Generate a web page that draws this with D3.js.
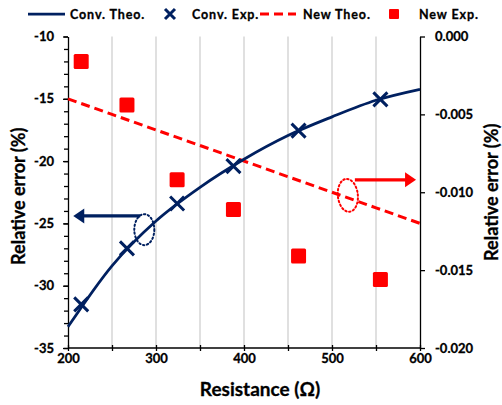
<!DOCTYPE html>
<html>
<head>
<meta charset="utf-8">
<script src="https://cdn.jsdelivr.net/npm/d3@7"></script>
<style>
  body { margin: 0; background: #fff; }
  text { font-family: Lato, "Open Sans", sans-serif; font-weight: bold; fill: #000; stroke: #000; stroke-width: 0.3px; }
</style>
</head>
<body>
<div id="chart"></div>
<script>
// data
const theoX = [200, 250, 300, 350, 400, 450, 500, 550, 600];
const convTheo = [-33.3, -28.4, -24.8, -22.1, -19.85, -17.95, -16.45, -15.12, -14.24];
const newTheo = [-0.0040, -0.0050, -0.0060, -0.0070, -0.0080, -0.0090, -0.0100, -0.0110, -0.0120];

const expX = [215, 267, 324, 388, 462, 555];
const convExp = [-31.5, -27.0, -23.4, -20.4, -17.55, -15.05];
const newExp = [-0.0016, -0.0044, -0.0092, -0.0111, -0.0141, -0.0156];

const xTicks = [200, 250, 300, 350, 400, 450, 500, 550, 600];
const leftTicks = [-35, -30, -25, -20, -15, -10];
const rightTicks = [-0.020, -0.015, -0.010, -0.005, 0.000];

const seriesNames = ['Conv. Theo.', 'Conv. Exp.', 'New Theo.', 'New Exp.'];

const MARGIN = {TOP: 36.5, BOTTOM: 57, LEFT: 68, RIGHT: 82};
const WIDTH = 502 - MARGIN.LEFT - MARGIN.RIGHT;
const HEIGHT = 405 - MARGIN.TOP - MARGIN.BOTTOM;
const NAVY = '#002060';
const RED = '#ff0000';

const svg = d3.select('#chart')
  .append('svg')
    .attr('width', 502)
    .attr('height', 405);

const g = svg.append('g')
  .attr('transform', `translate(${MARGIN.LEFT}, ${MARGIN.TOP})`);

const x = d3.scaleLinear().domain([200, 600]).range([0, WIDTH]);
const yL = d3.scaleLinear().domain([-35, -10]).range([HEIGHT, 0]);
const yR = d3.scaleLinear().domain([-0.02, 0]).range([HEIGHT, 0]);

// vertical gridlines
g.selectAll('.grid')
  .data(xTicks.slice(1, -1))
  .enter().append('line')
    .attr('x1', d => x(d)).attr('x2', d => x(d))
    .attr('y1', 0).attr('y2', HEIGHT)
    .attr('stroke', '#d0d0d0')
    .attr('stroke-width', 1.3);

// x axis
const xAxis = g.append('g')
  .attr('transform', `translate(0, ${HEIGHT - 3})`)
  .call(d3.axisBottom(x)
    .tickValues(xTicks)
    .tickSize(6)
    .tickPadding(3)
    .tickFormat(d => d % 100 === 0 ? d : ''));
xAxis.select('.domain').remove();
g.append('line')
  .attr('x1', 0).attr('x2', WIDTH)
  .attr('y1', HEIGHT).attr('y2', HEIGHT)
  .attr('stroke', '#000').attr('stroke-width', 1.3);

// left axis, minor then major
g.append('g')
  .call(d3.axisLeft(yL).tickValues(d3.range(-35, -9, 1)).tickSize(4).tickFormat(''))
  .select('.domain').remove();
const yAxisL = g.append('g')
  .call(d3.axisLeft(yL).tickValues(leftTicks).tickSize(5).tickPadding(9).tickSizeOuter(0)
    .tickFormat(d => String(d)));

// right axis
const yAxisR = g.append('g')
  .attr('transform', `translate(${WIDTH}, 0)`)
  .call(d3.axisRight(yR).tickValues(rightTicks).tickSize(5).tickPadding(10).tickSizeOuter(0)
    .tickFormat(d => d.toFixed(3)));

g.selectAll('.tick text').attr('font-size', '13px').attr('font-family', 'Lato, sans-serif');
g.selectAll('.tick line, .domain').attr('stroke', '#000').attr('stroke-width', 1.3);

// axis titles
svg.append('text')
  .attr('transform', `translate(25, ${MARGIN.TOP + HEIGHT / 2 + 4}) rotate(-90)`)
  .attr('text-anchor', 'middle')
  .attr('font-size', '18px')
  .text('Relative error (%)');

svg.append('text')
  .attr('transform', `translate(498, ${MARGIN.TOP + HEIGHT / 2}) rotate(-90)`)
  .attr('text-anchor', 'middle')
  .attr('font-size', '18px')
  .text('Relative error (%)');

svg.append('text')
  .attr('x', 260)
  .attr('y', 396)
  .attr('text-anchor', 'middle')
  .attr('font-size', '19px')
  .text('Resistance (\u03A9)');

// new theory (right axis)
g.append('path')
  .datum(theoX.map((d, i) => [d, newTheo[i]]))
  .attr('fill', 'none')
  .attr('stroke', RED)
  .attr('stroke-width', 3)
  .attr('stroke-dasharray', '9,5')
  .attr('d', d3.line().x(d => x(d[0])).y(d => yR(d[1])));

// conventional theory (left axis)
g.append('path')
  .datum(theoX.map((d, i) => [d, convTheo[i]]))
  .attr('fill', 'none')
  .attr('stroke', NAVY)
  .attr('stroke-width', 2.75)
  .attr('d', d3.line().curve(d3.curveMonotoneX).x(d => x(d[0])).y(d => yL(d[1])));

// new experiment squares
const SQ = 15;
g.selectAll('.sq')
  .data(expX.map((d, i) => [d, newExp[i]]))
  .enter().append('rect')
    .attr('x', d => x(d[0]) - SQ / 2)
    .attr('y', d => yR(d[1]) - SQ / 2)
    .attr('width', SQ).attr('height', SQ)
    .attr('rx', 1.5)
    .attr('fill', RED);

// conventional experiment crosses
const cross = (sel, s) => sel.append('path')
  .attr('d', `M${-s},${-s}L${s},${s}M${-s},${s}L${s},${-s}`)
  .attr('stroke', NAVY)
  .attr('stroke-width', 3)
  .attr('fill', 'none');

g.selectAll('.cr')
  .data(expX.map((d, i) => [d, convExp[i]]))
  .enter().append('g')
    .attr('transform', d => `translate(${x(d[0])}, ${yL(d[1])})`)
    .each(function() { cross(d3.select(this), 7); });

// annotations: dotted ellipse + arrow towards the axis used
const arrow = (x1, x2, y, color) => {
  const dir = Math.sign(x2 - x1);
  g.append('line')
    .attr('x1', x1).attr('x2', x2 - dir * 9)
    .attr('y1', y).attr('y2', y)
    .attr('stroke', color).attr('stroke-width', 3.2);
  g.append('path')
    .attr('d', `M${x2},${y}L${x2 - dir * 11},${y - 7.5}L${x2 - dir * 11},${y + 7.5}Z`)
    .attr('fill', color);
};

g.append('ellipse')
  .attr('cx', x(286.7)).attr('cy', yL(-25.5))
  .attr('rx', 10).attr('ry', 15.5)
  .attr('fill', 'none')
  .attr('stroke', NAVY).attr('stroke-width', 2)
  .attr('stroke-dasharray', '1.5,2.5')
  .attr('stroke-linecap', 'round');
arrow(x(282), x(206), yL(-24.4), NAVY);

g.append('ellipse')
  .attr('cx', x(518)).attr('cy', yR(-0.0102))
  .attr('rx', 10).attr('ry', 16.5)
  .attr('transform', `rotate(-6, ${x(518)}, ${yR(-0.0102)})`)
  .attr('fill', 'none')
  .attr('stroke', RED).attr('stroke-width', 2)
  .attr('stroke-dasharray', '1.5,2.5')
  .attr('stroke-linecap', 'round');
arrow(x(326 + 200), x(595.5), yR(-0.0092), RED);

// legend
const legend = svg.append('g').attr('transform', 'translate(0, 14)');
legend.append('line')
  .attr('x1', 28).attr('x2', 65).attr('y1', 0).attr('y2', 0)
  .attr('stroke', NAVY).attr('stroke-width', 2.75);
cross(legend.append('g').attr('transform', 'translate(170, 0)'), 5);
legend.append('line')
  .attr('x1', 260).attr('x2', 296).attr('y1', 0).attr('y2', 0)
  .attr('stroke', RED).attr('stroke-width', 3)
  .attr('stroke-dasharray', '9,5');
legend.append('rect')
  .attr('x', 389).attr('y', -5).attr('width', 10).attr('height', 10)
  .attr('rx', 1).attr('fill', RED);

legend.selectAll('.lt')
  .data(seriesNames)
  .enter().append('text')
    .attr('x', (d, i) => [70, 192, 303, 419][i])
    .attr('y', 4.5)
    .attr('font-size', '12.5px')
    .attr('letter-spacing', '0.9px')
    .text(d => d);
</script>
</body>
</html>
